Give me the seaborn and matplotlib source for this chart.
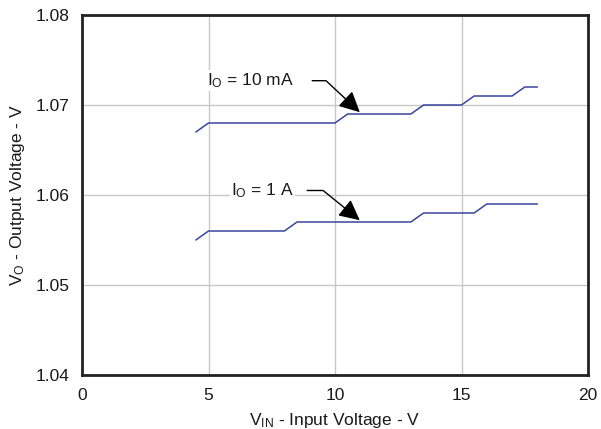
import pandas as pd
import seaborn as sns
import matplotlib.pyplot as plt

vin_10ma = [4.5, 5, 10, 10.5, 13, 13.5, 15, 15.5, 17, 17.5, 18]
vo_10ma = [1.067, 1.068, 1.068, 1.069, 1.069, 1.070, 1.070, 1.071, 1.071, 1.072, 1.072]
vin_1a = [4.5, 5, 8, 8.5, 13, 13.5, 15.5, 16, 18]
vo_1a = [1.055, 1.056, 1.056, 1.057, 1.057, 1.058, 1.058, 1.059, 1.059]

x_ticks = [0, 5, 10, 15, 20]
y_ticks = [1.04, 1.05, 1.06, 1.07, 1.08]
y_tick_labels = ['1.04', '1.05', '1.06', '1.07', '1.08']

sns.set_theme(style='whitegrid')
plt.rcParams['font.family'] = ['Liberation Sans', 'DejaVu Sans']
plt.rcParams['mathtext.fontset'] = 'custom'
plt.rcParams['mathtext.rm'] = 'Liberation Sans'

df_10ma = pd.DataFrame({'vin': vin_10ma, 'vo': vo_10ma})
df_1a = pd.DataFrame({'vin': vin_1a, 'vo': vo_1a})

fig = plt.figure(figsize=(6.01, 4.29), dpi=100)
ax = fig.add_axes([82 / 601, 1 - 375 / 429, 506 / 601, 360 / 429])

line_color = '#3a46a0'
sns.lineplot(data=df_10ma, x='vin', y='vo', ax=ax, color=line_color, lw=1.1, sort=False)
sns.lineplot(data=df_1a, x='vin', y='vo', ax=ax, color=line_color, lw=1.1, sort=False)

txt = '#1a1a1a'
fs = 12.5
ax.set_xlim(0, 20)
ax.set_ylim(1.04, 1.08)
ax.set_xticks(x_ticks)
ax.set_yticks(y_ticks)
ax.set_yticklabels(y_tick_labels)
ax.grid(True, color='#c8c8c8', lw=1)
ax.tick_params(length=0, labelsize=fs, colors=txt)
ax.tick_params(axis='x', pad=9)
ax.tick_params(axis='y', pad=9)
for s in ax.spines.values():
    s.set_color('#222222')
    s.set_linewidth(2)

ax.set_xlabel(r'$\mathregular{V_{IN}}$ - Input Voltage - V', fontsize=fs, color=txt, labelpad=6)
ax.set_ylabel(r'$\mathregular{V_{O}}$ - Output Voltage - V', fontsize=fs, color=txt, labelpad=6)

box = dict(facecolor='white', edgecolor='none', pad=1)
ax.text(4.95, 1.0727, r'$\mathregular{I_{O}}$ = 10 mA', fontsize=fs, ha='left', va='center',
        color=txt, bbox=box)
ax.text(5.9, 1.0605, r'$\mathregular{I_{O}}$ = 1 A', fontsize=fs, ha='left', va='center',
        color=txt, bbox=box)

arrow = dict(arrowstyle='-|>,head_length=0.9,head_width=0.45', color='black', lw=1,
             shrinkA=0, shrinkB=0, mutation_scale=14)
ax.annotate('', xy=(10.98, 1.0692), xytext=(9.1, 1.0727),
            arrowprops=dict(connectionstyle='angle,angleA=0,angleB=-43,rad=0', **arrow))
ax.annotate('', xy=(10.98, 1.0572), xytext=(8.9, 1.0605),
            arrowprops=dict(connectionstyle='angle,angleA=0,angleB=-39,rad=0', **arrow))

plt.savefig('out.png', dpi=100)
